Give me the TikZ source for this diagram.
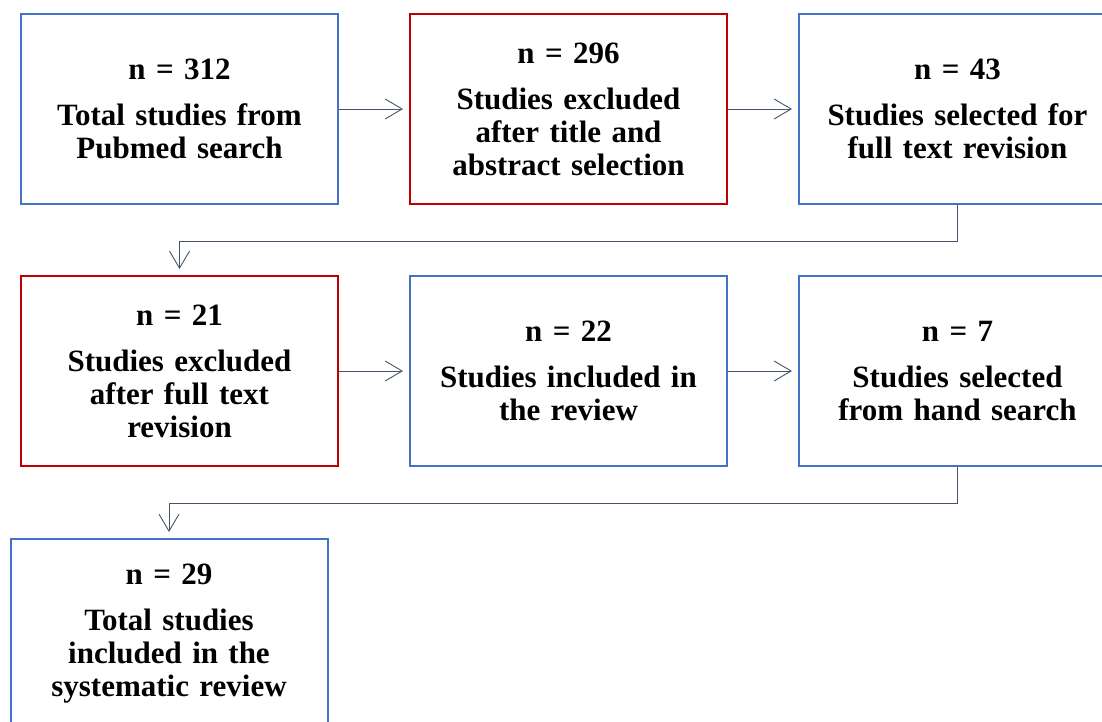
\documentclass[tikz,border=0pt]{standalone}
\usepackage{fontspec}
\setmainfont{Liberation Serif}
\usetikzlibrary{arrows.meta,positioning,calc}
\definecolor{fc-blue}{HTML}{4472C4}
\definecolor{fc-red}{HTML}{C00000}
\definecolor{fc-link}{HTML}{44546A}
\newcommand{\cnt}[1]{n = #1\\[13pt]}

\begin{document}
\begin{tikzpicture}[x=1pt,y=-1pt,
  box/.style={draw=fc-blue,line width=2pt,minimum width=317pt,minimum height=190pt,
    inner sep=0pt,align=center,text width=310pt,
    font=\bfseries\fontsize{31}{33}\selectfont},
  excl/.style={box,draw=fc-red},
  link/.style={fc-link,line width=0.9pt,-{Straight Barb[length=17pt,width=20pt]},shorten >=6pt}]

\useasboundingbox (0,0) rectangle (1102,722);
\clip (0,0) rectangle (1102,722);

% ============ ROW 1: search and screening ============
\node[box]  (pub)  at (179.5,109) {\cnt{312}Total studies from\\ Pubmed search};
\node[excl] (tiab) at (568.5,109) {\cnt{296}Studies excluded\\ after title and\\ abstract selection};
\node[box]  (full) at (957.5,109) {\cnt{43}Studies selected for\\ full text revision};

% ============ ROW 2: full text and hand search ============
\node[excl] (ftex) at (179.5,371) {\cnt{21}Studies excluded\\ after full text\\ revision};
\node[box]  (incl) at (568.5,371) {\cnt{22}Studies included in\\ the review};
\node[box]  (hand) at (957.5,371) {\cnt{7}Studies selected\\ from hand search};

% ============ ROW 3: final count ============
\node[box]  (sys)  at (169,634) {\cnt{29}Total studies\\ included in the\\ systematic review};

% connectors
\draw[link] (pub)  -- (tiab);
\draw[link] (tiab) -- (full);
\draw[link] (full.south) -- ++(0,36) -| (ftex.north);
\draw[link] (ftex) -- (incl);
\draw[link] (incl) -- (hand);
\draw[link] (hand.south) -- ++(0,36) -| (sys.north);

\end{tikzpicture}
\end{document}
